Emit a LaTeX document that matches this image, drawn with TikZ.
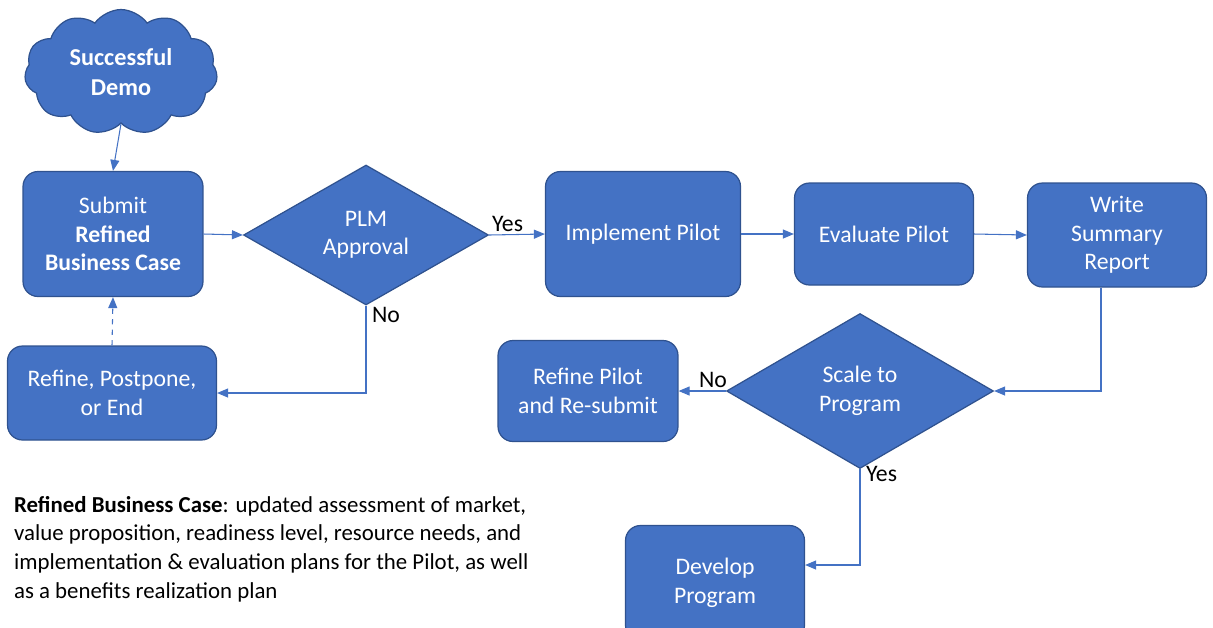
\documentclass[tikz,border=0pt]{standalone}
\usepackage{fontspec}
\setmainfont{Carlito}
\usetikzlibrary{shapes.geometric,shapes.symbols,arrows.meta}
\definecolor{boxblue}{HTML}{4472C4}
\definecolor{edgeblue}{HTML}{2F528F}
\tikzset{
  box/.style={draw=edgeblue, fill=boxblue, rounded corners=0.3cm, text=white,
    align=center, inner sep=0pt, line width=0.7pt},
  decision/.style={diamond, draw=edgeblue, fill=boxblue, text=white,
    align=center, inner sep=0pt, line width=0.7pt},
  flow/.style={draw=boxblue, line width=0.6pt, -{Triangle[length=2.2mm,width=1.8mm]}},
  tag/.style={text=black, inner sep=1pt},
}
\begin{document}
\begin{tikzpicture}[x=0.02cm, y=-0.02cm, font=\fontsize{13.5}{16.2}\selectfont]

\useasboundingbox (0,0) rectangle (1213,627);

\node[cloud, cloud puffs=11, cloud puff arc=110, aspect=1.6, draw=edgeblue, fill=boxblue,
  text=white, align=center, line width=0.7pt, minimum width=3.86cm, minimum height=2.5cm,
  font=\fontsize{13.8}{16.8}\selectfont\bfseries] (demo) at (121,72) {Successful\\Demo};

\node[box, minimum width=3.6cm, minimum height=2.5cm] (submit) at (113,234)
  {Submit\\\textbf{Refined}\\\textbf{Business Case}};
\node[decision, minimum width=4.9cm, minimum height=2.8cm] (plm) at (366,235) {PLM\\Approval};
\node[box, minimum width=3.9cm, minimum height=2.5cm] (implement) at (643,234) {Implement Pilot};
\node[box, minimum width=3.58cm, minimum height=2.04cm] (evaluate) at (884,234) {Evaluate Pilot};
\node[box, minimum width=3.58cm, minimum height=2.08cm] (report) at (1117,235) {Write\\Summary\\Report};

\node[box, minimum width=4.18cm, minimum height=1.88cm] (refine) at (112,393) {Refine, Postpone,\\or End};
\node[decision, minimum width=5.34cm, minimum height=3.1cm] (scale) at (860,391) {Scale to\\Program};
\node[box, minimum width=3.6cm, minimum height=2.02cm] (repilot) at (588,391) {Refine Pilot\\and Re-submit};
\node[box, minimum width=3.58cm, minimum height=2.3cm] (develop) at (715,583) {Develop\\Program};

% arrows
\draw[flow] (demo.south) -- (submit.north);
\draw[flow] (submit.east) -- (plm.west);
\draw[flow] (plm.east) -- (implement.west);
\draw[flow] (implement.east) -- (evaluate.west);
\draw[flow] (evaluate.east) -- (report.west);
\draw[flow] ([xshift=-0.32cm]report.south) |- (scale.east);
\draw[flow] (plm.south) |- (refine.east);
\draw[flow, dashed] (refine.north) -- (submit.south);
\draw[flow] (scale.west) -- (repilot.east);
\draw[flow] (scale.south) |- ([yshift=0.36cm]develop.east);

\node[tag, anchor=south west] (yes1) at (490,234) {Yes};
\node[tag, anchor=north west] (no1) at (370,305) {No};
\node[tag, anchor=south] (no2) at (713,390) {No};
\node[tag, anchor=north west] (yes2) at (864,464) {Yes};

\node[tag, anchor=north west, align=left, font=\fontsize{13}{16.3}\selectfont] (note) at (12,494)
  {\textbf{Refined Business Case}: updated assessment of market,\\
   value proposition, readiness level, resource needs, and\\
   implementation \& evaluation plans for the Pilot, as well\\
   as a benefits realization plan};

\end{tikzpicture}
\end{document}
